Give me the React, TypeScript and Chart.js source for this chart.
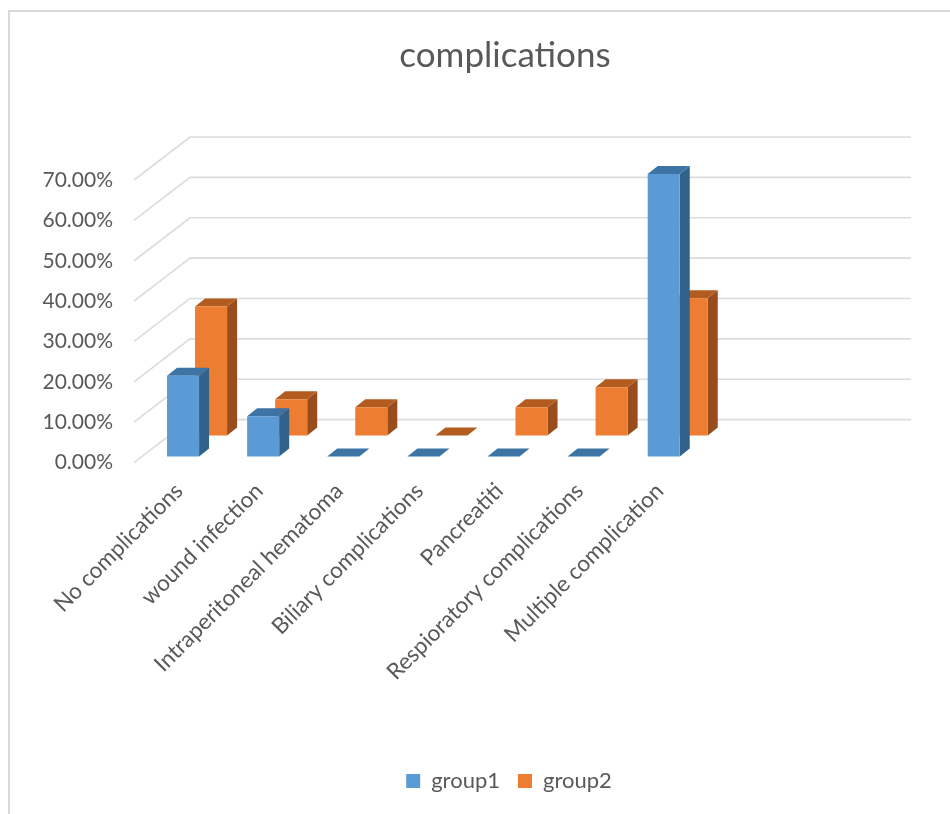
import { useEffect, useRef } from "react";
import { Chart, registerables } from "chart.js";

Chart.register(...registerables);

const titleText = "complications";
const categories = [
  "No complications",
  "wound infection",
  "Intraperitoneal hematoma",
  "Biliary complications",
  "Pancreatiti",
  "Respioratory complications",
  "Multiple complication",
  "",
  "",
];
const group1 = [0.2, 0.1, 0, 0, 0, 0, 0.7, null, null];
const group2 = [0.32, 0.09, 0.07, 0, 0.07, 0.12, 0.34, null, null];

const TEXT = "#595959";
const GRID = "#dcdcdc";
const FONT = "Lato, 'Open Sans', sans-serif";

// Oblique projection: how far the back wall and each series row sit from the front plane.
const WALL = { dx: 56, dy: -43 };
const ROWS = [
  { dx: 9, dy: -6, top: "#3d73a5", side: "#31628b" },
  { dx: 37, dy: -27, top: "#b35c20", side: "#994d1d" },
];
const BAR_DEPTH = { dx: 10, dy: -8 };

const pseudo3d = {
  id: "pseudo3d",
  beforeDraw(chart: any) {
    const { ctx, width, height, chartArea, scales } = chart;
    ctx.save();
    ctx.fillStyle = "#ffffff";
    ctx.fillRect(0, 0, width, height);

    // Outer frame: only the left and top edges fall inside the canvas.
    ctx.strokeStyle = "#d9d9d9";
    ctx.lineWidth = 2;
    ctx.beginPath();
    ctx.moveTo(9, height);
    ctx.lineTo(9, 11);
    ctx.lineTo(width, 11);
    ctx.stroke();

    // Side wall diagonals and back wall lines for each tick.
    ctx.strokeStyle = GRID;
    ctx.lineWidth = 1.6;
    for (const tick of scales.y.ticks) {
      const y = scales.y.getPixelForValue(tick.value);
      ctx.beginPath();
      ctx.moveTo(chartArea.left, y);
      ctx.lineTo(chartArea.left + WALL.dx, y + WALL.dy);
      ctx.lineTo(chartArea.right + WALL.dx, y + WALL.dy);
      ctx.stroke();
    }
    ctx.restore();
  },
  afterLayout(chart: any) {
    // The title and legend are centred on the full chart frame, which runs past the canvas.
    chart.titleBlock.left = 60;
    chart.titleBlock.right = 950;
    chart.legend.left = 68;
    chart.legend.right = 950;
  },
  beforeDatasetDraw(chart: any, args: any) {
    const { ctx } = chart;
    const row = ROWS[args.index];
    const values = chart.data.datasets[args.index].data;
    ctx.save();
    ctx.translate(row.dx, row.dy);
    args.meta.data.forEach((bar: any, i: number) => {
      if (values[i] === null) return;
      const { x, y, base, width } = bar.getProps(["x", "y", "base", "width"], true);
      const l = x - width / 2;
      const r = x + width / 2;
      ctx.fillStyle = row.side;
      ctx.beginPath();
      ctx.moveTo(r, base);
      ctx.lineTo(r + BAR_DEPTH.dx, base + BAR_DEPTH.dy);
      ctx.lineTo(r + BAR_DEPTH.dx, y + BAR_DEPTH.dy);
      ctx.lineTo(r, y);
      ctx.closePath();
      ctx.fill();
      ctx.fillStyle = row.top;
      ctx.beginPath();
      ctx.moveTo(l, y);
      ctx.lineTo(l + BAR_DEPTH.dx, y + BAR_DEPTH.dy);
      ctx.lineTo(r + BAR_DEPTH.dx, y + BAR_DEPTH.dy);
      ctx.lineTo(r, y);
      ctx.closePath();
      ctx.fill();
    });
  },
  afterDatasetDraw(chart: any) {
    chart.ctx.restore();
  },
};

export default function App() {
  const ref = useRef<HTMLCanvasElement>(null);

  useEffect(() => {
    const chart = new Chart(ref.current as HTMLCanvasElement, {
      type: "bar",
      data: {
        labels: categories,
        datasets: [
          { label: "group1", data: group1, backgroundColor: "#5b9bd5", clip: false } as any,
          { label: "group2", data: group2, backgroundColor: "#ed7d31", clip: false } as any,
        ],
      },
      plugins: [pseudo3d],
      options: {
        responsive: false,
        animation: false,
        layout: { autoPadding: false, padding: { left: 0, right: 95, top: 0, bottom: 12 } },
        datasets: { bar: { grouped: false, categoryPercentage: 1, barPercentage: 0.4 } },
        plugins: {
          tooltip: { enabled: false },
          title: {
            display: true,
            text: titleText,
            color: TEXT,
            font: { family: FONT, size: 35, weight: "normal", lineHeight: 1.2 },
            padding: { top: 34.5, bottom: 103.5 },
          },
          legend: {
            position: "bottom",
            labels: {
              boxWidth: 14,
              boxHeight: 14,
              padding: 18,
              color: TEXT,
              font: { family: FONT, size: 22 },
            },
          },
        },
        scales: {
          x: {
            grid: { display: false, drawTicks: false },
            border: { display: false },
            afterFit(scale: any) {
              scale.height = 289.4;
            },
            ticks: {
              autoSkip: false,
              minRotation: 45,
              maxRotation: 45,
              padding: 15,
              labelOffset: 5,
              color: TEXT,
              font: { family: FONT, size: 22.5 },
            },
          },
          y: {
            min: 0,
            max: 0.7,
            grid: { display: false, drawTicks: false },
            border: { display: false },
            afterFit(scale: any) {
              scale.width = 134;
            },
            ticks: {
              stepSize: 0.1,
              padding: 21,
              color: TEXT,
              font: { family: FONT, size: 21 },
              callback: (v: any) => `${(Number(v) * 100).toFixed(2)}%`,
            },
          },
        },
      },
    } as any);
    return () => chart.destroy();
  }, []);

  return (
    <div style={{ position: "absolute", left: 0, top: 0, width: 950, height: 814, overflow: "hidden" }}>
      <canvas ref={ref} width={950} height={814} style={{ display: "block" }} />
    </div>
  );
}
